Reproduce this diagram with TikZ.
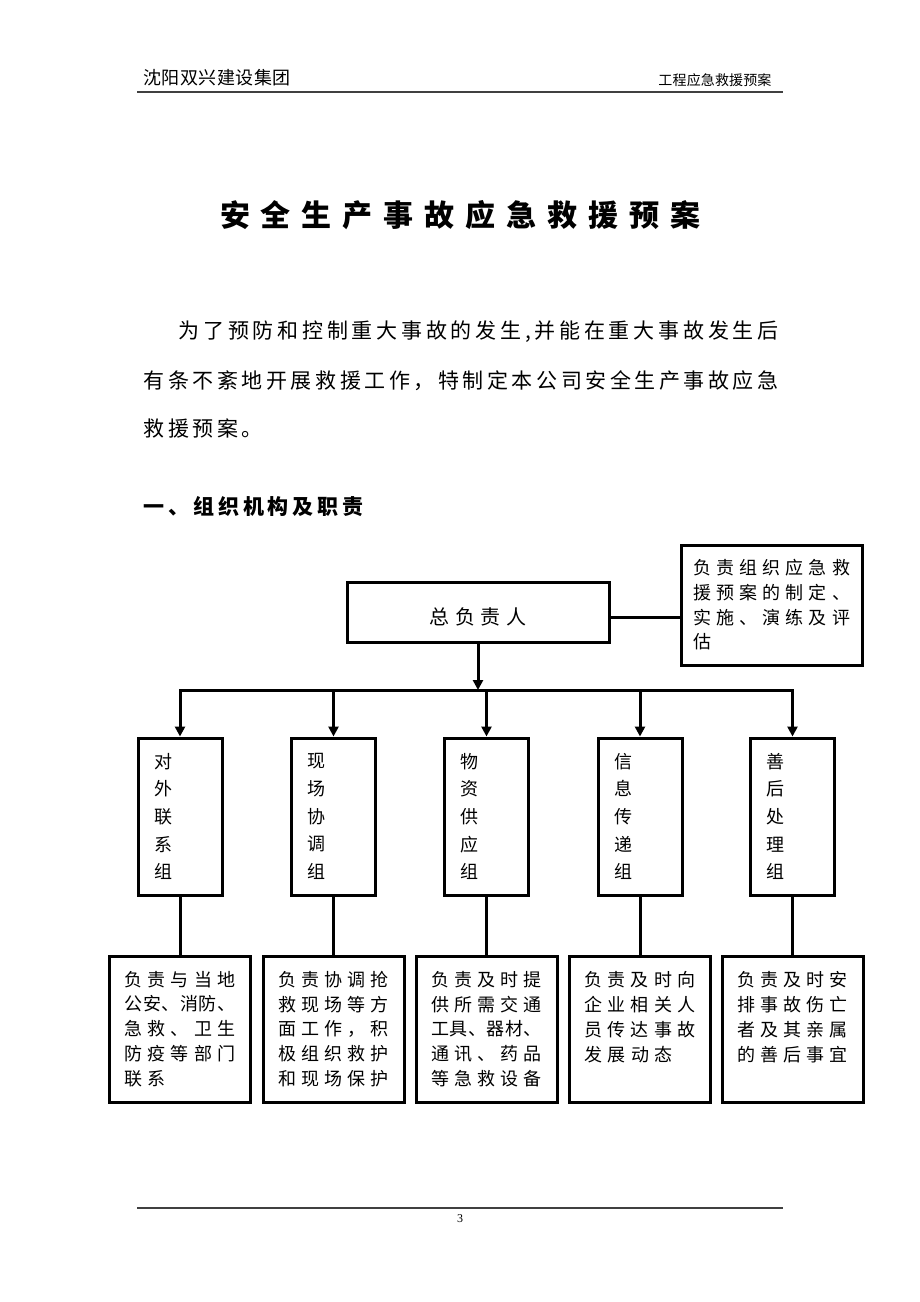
\documentclass[tikz,border=0pt]{standalone}
\usepackage{fontspec}
\setmainfont{Liberation Serif}
\newfontfamily\cjk{Noto Sans CJK SC}
\usetikzlibrary{arrows.meta}
\ExplSyntaxOn
\NewDocumentCommand\fillto{mm}
  {
    \makebox[#1pt][s]
      {
        \bool_set_false:N \l_tmpa_bool
        \tl_map_inline:nn {#2}
          { \bool_if:NT \l_tmpa_bool { \hfil } \bool_set_true:N \l_tmpa_bool ##1 }
      }
  }
\ExplSyntaxOff
\tikzset{
  Box/.style={draw=black, line width=3pt, inner sep=0pt},
  Link/.style={draw=black, line width=3pt},
  Arrow/.style={Link, -{Triangle[length=10pt,width=10pt]}},
  Group/.style={Box, minimum width=84pt, minimum height=157pt, text width=52pt, align=left, font=\cjk\fontsize{18pt}{27.6pt}\selectfont},
  Duty/.style={Box, minimum width=141pt, minimum height=146pt, text width=111pt, align=left, font=\cjk\fontsize{18pt}{24.8pt}\selectfont}
}

\begin{document}
\begin{tikzpicture}[x=1pt, y=-1pt]
        \useasboundingbox (0,0) rectangle (920,1302);
        % \draw[help lines, gray] (0,0) grid[step=50] (920,1302);
        \node[anchor=west, font=\cjk\fontsize{18pt}{20pt}\selectfont] (hdl) at (140,78){\fillto{147}{沈阳双兴建设集团}};
        \node[anchor=east, font=\cjk\fontsize{14pt}{16pt}\selectfont] (hdr) at (775,80){\fillto{113}{工程应急救援预案}};
        \draw[line width=1.5pt, black!75] (137,92) -- (783,92);
        \node[font=\cjk\bfseries\fontsize{30pt}{32pt}\selectfont] (title) at (460,215){\fillto{480}{安全生产事故应急救援预案}};
        \node[anchor=west, font=\cjk\fontsize{21pt}{24pt}\selectfont] (para1) at (175,332){\fillto{600}{为了预防和控制重大事故的发生,并能在重大事故发生后}};
        \node[anchor=west, font=\cjk\fontsize{21pt}{24pt}\selectfont] (para2) at (140,381){\fillto{635}{有条不紊地开展救援工作，特制定本公司安全生产事故应急}};
        \node[anchor=west, font=\cjk\fontsize{21pt}{24pt}\selectfont] (para3) at (140,428){\fillto{119}{救援预案。}};
        \node[anchor=west, font=\cjk\bfseries\fontsize{21pt}{24pt}\selectfont] (sec) at (140,507){\fillto{220}{一、组织机构及职责}};

        \node[Box, minimum width=262pt, minimum height=60pt, font=\cjk\fontsize{20pt}{22pt}\selectfont] (boss) at (478,612){\raisebox{-5pt}[\height][\depth]{\fillto{97}{总负责人}}};
        \node[Box, minimum width=181pt, minimum height=120pt, text width=157pt, align=left, font=\cjk\fontsize{18pt}{24.7pt}\selectfont] (duty) at (771.5,605){\fillto{157}{负责组织应急救}\\\fillto{157}{援预案的制定、}\\\fillto{157}{实施、演练及评}\\\mbox{估}};
        \coordinate (bus) at (478,690);

        \node[Group] (g1) at (180,816.5){对\\外\\联\\系\\组};
        \node[Group] (g2) at (333.5,816.5){现\\场\\协\\调\\组};
        \node[Group] (g3) at (486.5,816.5){物\\资\\供\\应\\组};
        \node[Group] (g4) at (640,816.5){信\\息\\传\\递\\组};
        \node[Group] (g5) at (792.5,816.5){善\\后\\处\\理\\组};

        \node[Duty] (d1) at (180,1029){\fillto{111}{负责与当地}\\\fillto{111}{公安、消防、}\\\fillto{111}{急救、卫生}\\\fillto{111}{防疫等部门}\\\fillto{41}{联系}};
        \node[Duty] (d2) at (333.5,1029){\fillto{111}{负责协调抢}\\\fillto{111}{救现场等方}\\\fillto{111}{面工作，积}\\\fillto{111}{极组织救护}\\\fillto{111}{和现场保护}};
        \node[Duty] (d3) at (486.5,1029){\fillto{111}{负责及时提}\\\fillto{111}{供所需交通}\\\fillto{111}{工具、器材、}\\\fillto{111}{通讯、药品}\\\fillto{111}{等急救设备}};
        \node[Duty] (d4) at (640,1029){\fillto{111}{负责及时向}\\\fillto{111}{企业相关人}\\\fillto{111}{员传达事故}\\\fillto{88}{发展动态}\\\mbox{}};
        \node[Duty] (d5) at (792.5,1029){\fillto{111}{负责及时安}\\\fillto{111}{排事故伤亡}\\\fillto{111}{者及其亲属}\\\fillto{111}{的善后事宜}\\\mbox{}};

        \draw[Link] ([yshift=-5pt]boss.east) -- ([yshift=-5pt]boss.east -| duty.west);
        \draw[Arrow] (boss.south) -- (boss.south |- bus);
        \draw[Link, line cap=rect] (g1.north |- bus) -- (g5.north |- bus);
        \draw[Arrow] (g1.north |- bus) -- (g1.north);
        \draw[Arrow] (g2.north |- bus) -- (g2.north);
        \draw[Arrow] (g3.north |- bus) -- (g3.north);
        \draw[Arrow] (g4.north |- bus) -- (g4.north);
        \draw[Arrow] (g5.north |- bus) -- (g5.north);
        \draw[Link] (g1.south) -- (d1.north);
        \draw[Link] (g2.south) -- (d2.north);
        \draw[Link] (g3.south) -- (d3.north);
        \draw[Link] (g4.south) -- (d4.north);
        \draw[Link] (g5.south) -- (d5.north);

        \draw[line width=1.5pt, black!75] (137,1208) -- (783,1208);
        \node[font=\fontsize{12pt}{14pt}\selectfont] (page) at (460,1219){3};
\end{tikzpicture}
\end{document}
